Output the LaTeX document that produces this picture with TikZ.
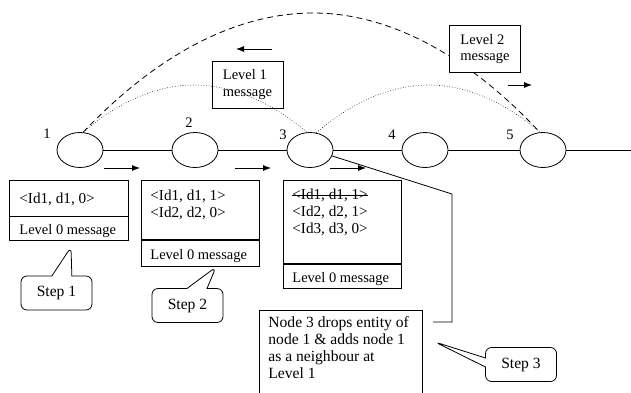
\documentclass[tikz,border=0pt]{standalone}
\usepackage{fontspec}
\setmainfont{Liberation Serif}
\usetikzlibrary{arrows.meta,shapes.geometric,shapes.callouts}

\begin{document}
\begin{tikzpicture}[x=1pt,y=-1pt,line width=0.8pt,
  every node/.style={font=\fontsize{14.5}{16.5}\selectfont},
  ent/.style={draw,ellipse,minimum width=46pt,minimum height=35pt,inner sep=0pt},
  cell/.style={draw,rectangle,inner sep=0pt},
  txt/.style={inner sep=0pt,anchor=base west},
  entry/.style={txt,font=\fontsize{15.2}{16.5}\selectfont},
  notetxt/.style={txt,font=\fontsize{15.6}{16.5}\selectfont},
  lvl/.style={draw,fill=white,rectangle,align=left,inner sep=0pt,minimum width=71pt,minimum height=47pt},
  stepnote/.style={draw,rectangle callout,rounded corners=6pt,minimum width=71pt,minimum height=34pt,inner sep=0pt,font=\fontsize{15.6}{16.5}\selectfont},
  flow/.style={-{Latex[length=8pt,width=6pt]}},
  hop/.style={dotted,line width=0.6pt}]
\useasboundingbox (0,0) rectangle (631,392);

% the chain of entities
\node[ent] (n1) at (80,150) {};
\node[ent] (n2) at (195,150) {};
\node[ent] (n3) at (310,150) {};
\node[ent] (n4) at (425,150) {};
\node[ent] (n5) at (543,150) {};
\coordinate (tail) at (631,150);
\draw (n1) -- (n2) -- (n3) -- (n4) -- (n5) -- (tail);
\node (l1) at (47,134) {1};
\node (l2) at (189,123) {2};
\node (l3) at (283,135) {3};
\node (l4) at (392,135) {4};
\node (l5) at (510,135) {5};

% level 1 and level 2 messages
\node[lvl,fill=none] (lv1) at (247.5,84.5) {Level 1\\message};
\draw[hop] (n1.80) parabola bend (194,85) (n3.100);
\draw[hop] (n3.70) parabola bend (429,85) (n5.100);
\draw[dash pattern=on 6pt off 4pt] (n1.80) parabola bend (313,13) (n5.100);
\node[lvl] (lv2) at (485,49) {Level 2\\message};
\draw[flow] (272,49) -- (236,49);
\draw[flow] (508,85) -- (532,85);

% level 0 messages
\draw[flow] (104,168) -- (140,168);
\draw[flow] (235,168) -- (271,168);
\draw[flow] (330,168) -- (366,168);

\node[cell,anchor=north west,minimum width=119pt,minimum height=35.5pt] (m1a) at (9,180) {};
\node[cell,anchor=north,minimum width=119pt,minimum height=23.5pt] (m1b) at (m1a.south) {};
\node[entry] (e11) at (19,203) {<Id1, d1, 0>};
\node[txt] (c1) at (19,234) {Level 0 message};

\node[cell,anchor=north west,minimum width=118pt,minimum height=59pt] (m2a) at (141,180) {};
\node[cell,anchor=north,minimum width=118pt,minimum height=26pt] (m2b) at (m2a.south) {};
\node[entry] (e21) at (150,200) {<Id1, d1, 1>};
\node[entry] (e22) at (150,217) {<Id2, d2, 0>};
\node[txt] (c2) at (150,259) {Level 0 message};

\node[cell,anchor=north west,minimum width=118pt,minimum height=83pt] (m3a) at (283,180) {};
\node[cell,anchor=north,minimum width=118pt,minimum height=24pt] (m3b) at (m3a.south) {};
\node[entry] (e31) at (292,199) {<Id1, d1, 1>};
\node[entry] (e32) at (292,216) {<Id2, d2, 1>};
\node[entry] (e33) at (292,233) {<Id3, d3, 0>};
\node[txt] (c3) at (292,282) {Level 0 message};
\draw ([yshift=3.5pt]e31.base west) -- ([yshift=3.5pt]e31.base east);

% note on node 3
\node[cell,anchor=north west,minimum width=163pt,minimum height=90pt] (note) at (259,310) {};
\node[notetxt] (t1) at (268,327) {Node 3 drops entity of};
\node[notetxt] (t2) at (268,344) {node 1 \& adds node 1};
\node[notetxt] (t3) at (268,361) {as a neighbour at};
\node[notetxt] (t4) at (268,378) {Level 1};
\coordinate (nt) at (433,322);
\draw (n3.-15) -- (452,194) |- (nt);

% steps
\node[stepnote,callout absolute pointer={(71,247)},callout pointer width=20pt] (s1) at (56.5,293) {Step 1};
\node[stepnote,callout absolute pointer={(216,267)},callout pointer width=20pt] (s2) at (187.5,305.5) {Step 2};
\node[stepnote,callout absolute pointer={(435,342)},callout pointer width=9pt] (s3) at (521,364.5) {Step 3};
\end{tikzpicture}
\end{document}
